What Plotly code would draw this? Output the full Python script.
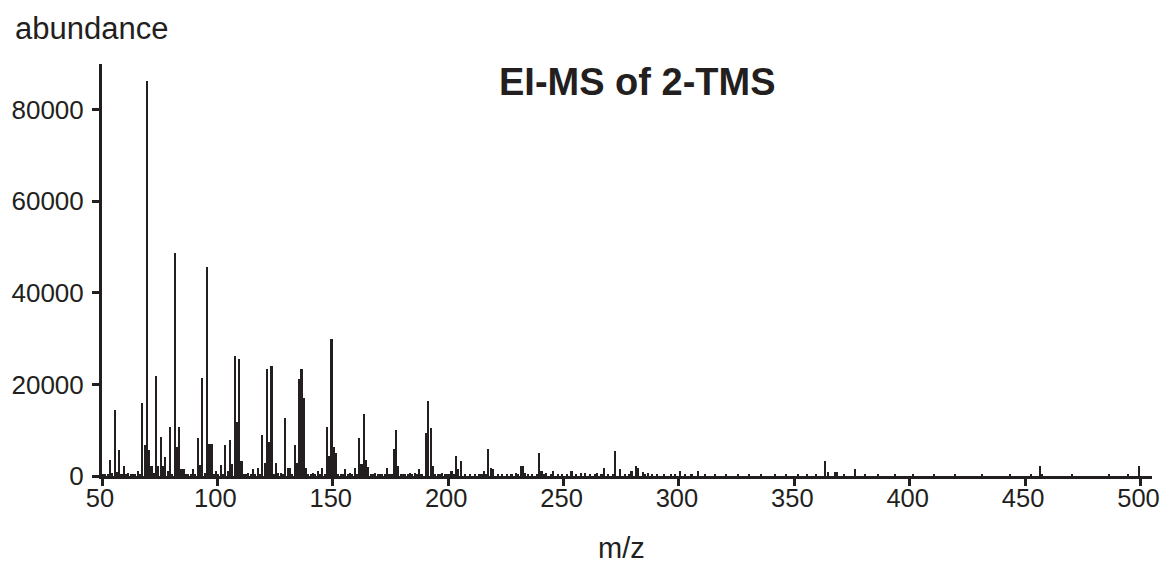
import plotly.graph_objects as go

# Major peaks (m/z, abundance)
mz_major = [53, 55, 56, 57, 59, 61, 65, 67, 68, 69, 70, 71, 72, 73, 74, 75, 76, 77, 78, 79,
            80, 81, 82, 83, 84, 85, 87, 89, 90, 91, 92, 93, 94, 95, 96, 97, 98, 99, 101, 103,
            104, 105, 106, 107, 108, 109, 110, 113, 115, 117, 119, 120, 121, 122, 123, 125, 126, 127, 129, 130,
            131, 133, 134, 135, 136, 137, 138, 141, 143, 145, 147, 148, 149, 150, 151, 155, 157, 159, 161, 162,
            163, 164, 165, 168, 173, 176, 177, 178, 183, 185, 187, 190, 191, 192, 193, 197, 201, 203, 204, 205,
            215, 217, 218, 219, 229, 231, 232, 233, 239, 240, 242, 245, 253, 257, 259, 264, 267, 272, 274, 279,
            281, 282, 284, 286, 300, 308, 363, 364, 367, 368, 376, 456, 457, 499]
abund_major = [3400, 14400, 800, 5600, 2200, 700, 1100, 16000, 6700, 86200, 5600, 2200, 600, 21900, 2200, 8500, 2200, 4200, 1100, 10700,
               500, 48800, 6300, 10700, 1500, 1500, 400, 1500, 400, 8200, 2500, 21500, 600, 45600, 7100, 7100, 500, 1100, 2500, 6700,
               1000, 7800, 2700, 26200, 11800, 25500, 3300, 700, 1500, 1800, 8900, 2900, 23300, 7400, 24100, 2900, 700, 700, 12600, 1800,
               1800, 6700, 2900, 21100, 23300, 17100, 1800, 700, 1100, 1800, 10700, 4400, 29900, 6300, 5100, 1500, 700, 1800, 8200, 2600,
               13600, 3600, 2000, 700, 1800, 5900, 10000, 2200, 700, 700, 1500, 9300, 16300, 10400, 2200, 700, 1100, 4400, 1500, 3300,
               1100, 5800, 1800, 1500, 700, 2200, 2200, 700, 5100, 1000, 700, 1100, 1000, 700, 700, 650, 1700, 5500, 1500, 1100,
               2200, 1800, 950, 700, 1200, 1200, 3300, 950, 800, 800, 1500, 2200, 500, 2200]

# Minor (baseline) peaks
mz_minor = [50, 51, 52, 54, 58, 60, 62, 63, 64, 66, 86, 88, 100, 102, 111, 112, 114, 116, 118, 124,
            128, 132, 139, 140, 142, 144, 146, 152, 153, 154, 156, 158, 160, 166, 167, 169, 170, 171, 172, 174,
            175, 179, 180, 181, 182, 184, 186, 188, 194, 195, 196, 198, 199, 200, 202, 207, 209, 211, 213, 214,
            216, 221, 223, 225, 227, 230, 234, 236, 238, 241, 244, 247, 249, 251, 255, 261, 263, 266, 269, 271,
            276, 278, 285, 288, 290, 293, 296, 298, 302, 305, 311, 315, 320, 325, 330, 335, 341, 346, 351, 355,
            359, 371, 380, 386, 393, 401, 410, 419, 431, 443, 452, 470, 486, 494]
abund_minor = [300, 400, 500, 600, 300, 400, 300, 400, 300, 500, 300, 300, 300, 400, 400, 300, 300, 400, 300, 400,
               400, 400, 400, 300, 400, 400, 400, 400, 300, 400, 300, 400, 400, 400, 300, 400, 300, 400, 300, 400,
               400, 400, 300, 400, 300, 300, 400, 400, 400, 300, 400, 300, 400, 300, 400, 400, 300, 400, 300, 400,
               300, 400, 300, 300, 400, 300, 300, 300, 400, 300, 400, 300, 400, 300, 400, 300, 400, 300, 400, 300,
               300, 400, 400, 300, 400, 300, 300, 400, 300, 300, 300, 300, 300, 300, 300, 300, 300, 300, 300, 300,
               300, 300, 300, 300, 300, 300, 300, 300, 350, 350, 300, 300, 350, 300]

x_ticks = [50, 100, 150, 200, 250, 300, 350, 400, 450, 500]
y_ticks = [0, 20000, 40000, 60000, 80000]
y_tick_labels = ["0", "20000", "40000", "60000", "80000"]

pairs = sorted(list(zip(mz_major, abund_major)) + list(zip(mz_minor, abund_minor)))
mz = [p[0] for p in pairs]
ab = [p[1] for p in pairs]

ink = "#231f20"
font = "Liberation Sans, Arial, Helvetica, sans-serif"

fig = go.Figure()
fig.add_trace(go.Bar(x=mz, y=ab, width=0.9, offset=0,
                     marker=dict(color=ink, line=dict(width=0))))

W, H = 1161, 571
ml, mt = 102, 64
mr = W - 1152
mb = H - 476
fig.update_layout(
    width=W, height=H,
    margin=dict(l=ml, r=mr, t=mt, b=mb, autoexpand=False),
    paper_bgcolor="white", plot_bgcolor="white",
    showlegend=False, bargap=0,
    font=dict(family=font, color=ink, size=26),
    xaxis=dict(range=[50, 505], tickvals=x_ticks, showgrid=False, zeroline=False,
               showline=True, linewidth=3, linecolor=ink, ticks="outside", ticklen=7,
               tickwidth=3, tickcolor=ink, ticklabeloverflow="allow", ticklabelstandoff=-10,
               ticklabelshift=-2,
               tickfont=dict(size=25.5, family=font, color=ink)),
    yaxis=dict(range=[0, 90000], tickvals=y_ticks, ticktext=y_tick_labels, showgrid=False,
               zeroline=False, showline=True, linewidth=3, linecolor=ink, ticks="outside",
               ticklen=7, tickwidth=3, tickcolor=ink, ticklabelstandoff=3,
               tickfont=dict(size=26, family=font, color=ink)),
)

def px_x(p):
    return (p - ml) / (W - ml - mr)

def px_y(p):
    return 1 - (p - mt) / (H - mt - mb)

fig.add_annotation(text="abundance", xref="paper", yref="paper", x=px_x(13), y=px_y(29),
                   xanchor="left", yanchor="middle", showarrow=False,
                   font=dict(size=31, family=font, color=ink))
fig.add_annotation(text="m/z", xref="paper", yref="paper", x=px_x(621), y=px_y(548),
                   xanchor="center", yanchor="middle", showarrow=False,
                   font=dict(size=29, family=font, color=ink))
fig.add_annotation(text="<b>EI-MS of 2-TMS</b>", xref="paper", yref="paper", x=px_x(637), y=px_y(82),
                   xanchor="center", yanchor="middle", showarrow=False,
                   font=dict(size=38, family=font, color=ink))

# remove the browser's default page margin so the figure fills the window exactly
fig.write_html("out.html", config={"displayModeBar": False},
               post_script="document.body.style.margin='0';document.body.style.overflow='hidden';")
